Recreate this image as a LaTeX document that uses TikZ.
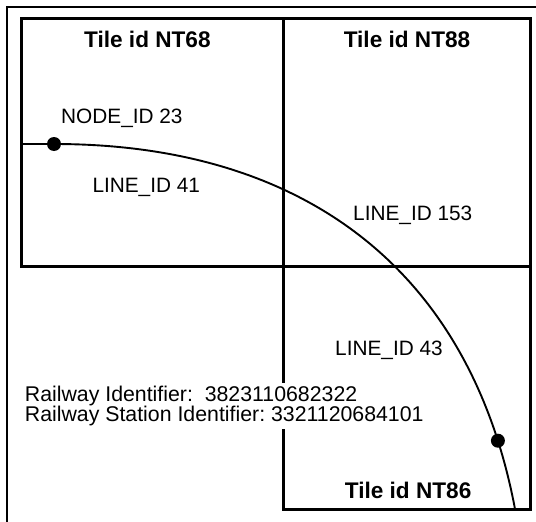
\documentclass[tikz,border=0pt]{standalone}
\usepackage{fontspec}
\setmainfont{Liberation Sans}
\tikzset{>=stealth}
\usetikzlibrary{positioning}
\colorlet{background}{white}
\colorlet{penColor}{black}
\tikzset{
  tileline/.style={penColor, line width=3pt, line join=miter},
  railline/.style={penColor, line width=1.9pt},
  tilelabel/.style={font=\fontsize{22.6}{24}\selectfont\bfseries, inner sep=0pt, anchor=base west},
  idlabel/.style={font=\fontsize{20.8}{20}\selectfont, inner sep=0pt, anchor=base west},
}

\begin{document}
\frenchspacing
\begin{tikzpicture}[x=1pt,y=-1pt]
  \useasboundingbox (0,0) rectangle (536,522);
  % outer frame
  \coordinate (O1) at (7,522);
  \coordinate (O2) at (7,7);
  \coordinate (O3) at (536,7);
  \draw[line width=1.2pt] (O1)--(O2)--(O3);
  % tiles
  \coordinate (A) at (21,18);
  \coordinate (B) at (283,18);
  \coordinate (C) at (530,18);
  \coordinate (D) at (21,266);
  \coordinate (E) at (283,266);
  \coordinate (F) at (530,266);
  \coordinate (G) at (283,509);
  \coordinate (H) at (530,509);
  \draw[tileline] (A)--(C)--(F)--(D)--cycle;
  \draw[tileline] (B)--(E)--(G)--(H)--(F);
  % railway line
  \coordinate (W) at (21,144);
  \coordinate (N23) at (54,144);
  \coordinate (S) at (515,509);
  \draw[railline] (W) -- (N23) .. controls (304,144) and (470,270) .. (S) coordinate[pos=0.9] (NB);
  \fill[penColor] (N23) circle [radius=7];
  \fill[penColor] (NB) circle [radius=7];
  % labels
  \node[tilelabel] (t68) at (84,47) {Tile id NT68};
  \node[tilelabel] (t88) at (343.6,47) {Tile id NT88};
  \node[tilelabel] (t86) at (344.7,498.3) {Tile id NT86};
  \node[idlabel] (n23) at (61,123) {NODE\_ID 23};
  \node[idlabel] (l41) at (92.3,192) {LINE\_ID 41};
  \node[idlabel] (l153) at (353,220) {LINE\_ID 153};
  \node[idlabel] (l43) at (335,355) {LINE\_ID 43};
  \node[idlabel, font=\fontsize{21.3}{20}\selectfont, fill=background, align=left, anchor=west, inner sep=3pt] (rail) at (21.7,406.3)
    {Railway Identifier:\ \ 3823110682322\\Railway Station Identifier: 3321120684101};
\end{tikzpicture}
\end{document}
